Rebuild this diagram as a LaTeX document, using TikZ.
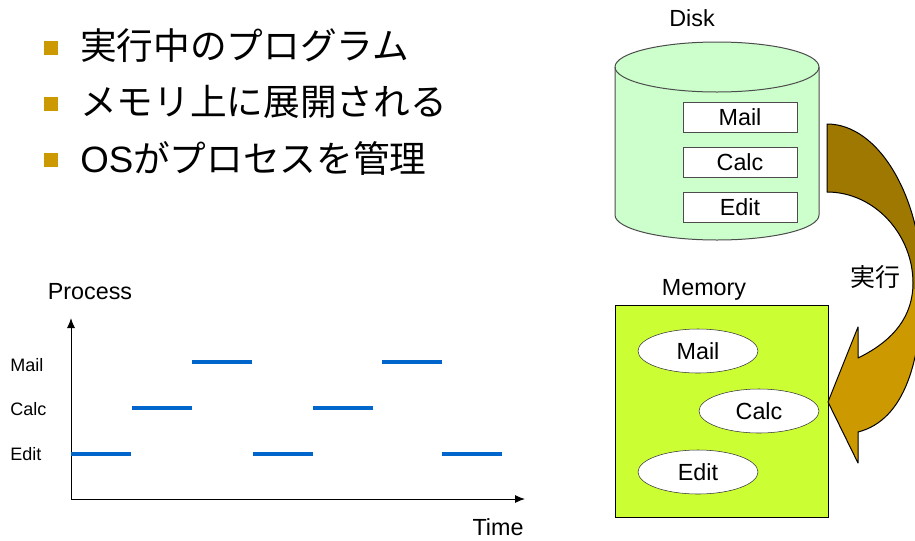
\documentclass[tikz,border=0pt]{standalone}
\usepackage{fontspec}
\setmainfont{Liberation Sans}
\newfontfamily\cjk{Noto Sans CJK JP}
\usetikzlibrary{shapes.geometric,arrows.meta}
\definecolor{gold}{HTML}{CC9900}
\definecolor{darkgold}{HTML}{9E7800}
\definecolor{diskgreen}{HTML}{CCFFCC}
\definecolor{memgreen}{HTML}{CCFF33}
\definecolor{runblue}{HTML}{0066CC}
\tikzset{
  lbl/.style={font=\fontsize{17.5}{20}\selectfont, inner sep=0pt},
  small/.style={font=\fontsize{13.5}{16}\selectfont, inner sep=0pt, anchor=west},
  bullettext/.style={font=\fontsize{27.5}{32}\selectfont, inner sep=0pt, anchor=west},
  bulletsq/.style={fill=gold, minimum size=11pt, inner sep=0pt, draw=none},
  filebox/.style={draw=black!70, fill=white, minimum width=85.5pt, minimum height=22.5pt, inner sep=0pt, font=\fontsize{17.5}{20}\selectfont},
  proc/.style={ellipse, draw=black!80, fill=white, minimum width=90pt, minimum height=33pt, inner sep=0pt, font=\fontsize{17.5}{20}\selectfont},
  run/.style={runblue, line width=3pt},
  axis/.style={line width=0.75pt, -{Latex[length=7.5pt,width=6pt]}},
}
\begin{document}
\begin{tikzpicture}[x=0.75pt,y=-0.75pt]
\useasboundingbox (0,0) rectangle (915,540);
\clip (0,0) rectangle (915,540);

% bullets
\node[bulletsq] (b1) at (51,48) {};
\node[bulletsq] (b2) at (51,104) {};
\node[bulletsq] (b3) at (51,160) {};
\node[bullettext] (t1) at (80,46) {\cjk 実行中のプログラム};
\node[bullettext] (t2) at (80,102) {\cjk メモリ上に展開される};
\node[bullettext] (t3) at (80,158) {OS{\cjk がプロセスを管理}};

% disk
\node[lbl] (disklbl) at (692,18) {Disk};
\draw[black!70, fill=diskgreen, line width=0.75pt]
  (615,67) -- (615,215) arc[start angle=180, end angle=0, x radius=102, y radius=25]
  -- (819,67) arc[start angle=0, end angle=-180, x radius=102, y radius=25] -- cycle;
\draw[black!70, line width=0.75pt] (615,67) arc[start angle=180, end angle=0, x radius=102, y radius=25];
\node[filebox] (dmail) at (740,117) {Mail};
\node[filebox] (dcalc) at (740,162) {Calc};
\node[filebox] (dedit) at (740,207) {Edit};

% memory
\node[lbl] (memlbl) at (704,290) {Memory};
\draw[black, fill=memgreen, line width=0.75pt] (615,305) rectangle (828,517);
\node[proc] (mmail) at (698,351) {Mail};
\node[proc] (mcalc) at (759,411) {Calc};
\node[proc] (medit) at (698,472) {Edit};

% curved arrow
\def\arrowpath{(827,124) .. controls (880,124) and (922,200) .. (922,283)
  .. controls (922,360) and (905,420) .. (858,432)
  -- (858,463) -- (828,402) -- (858,327) -- (858,358)
  .. controls (895,340) and (913,315) .. (913,283)
  .. controls (913,235) and (875,192) .. (827,192) -- cycle}
\fill[gold] \arrowpath;
\begin{scope}
  \clip (800,100) rectangle (930,288);
  \fill[darkgold] \arrowpath;
\end{scope}
\draw[black, line width=0.75pt, line join=round] \arrowpath;
\node[font=\fontsize{18.75}{22}\selectfont\cjk, inner sep=0pt] (runlbl) at (875,277) {実行};

% chart
\coordinate (origin) at (71,499);
\coordinate (ytip) at (71,318);
\coordinate (xtip) at (525,499);
\draw[axis] (origin) -- (ytip);
\draw[axis] (origin) -- (xtip);
\node[lbl] (ylbl) at (90,292) {Process};
\node[lbl] (xlbl) at (498,527) {Time};
\node[small] (lmail) at (10,365) {Mail};
\node[small] (lcalc) at (10,409) {Calc};
\node[small] (ledit) at (10,454) {Edit};

\coordinate (e1a) at (71,454);  \coordinate (e1b) at (131,454);
\coordinate (c1a) at (132,408); \coordinate (c1b) at (192,408);
\coordinate (m1a) at (192,362); \coordinate (m1b) at (252,362);
\coordinate (e2a) at (253,454); \coordinate (e2b) at (313,454);
\coordinate (c2a) at (313,408); \coordinate (c2b) at (373,408);
\coordinate (m2a) at (382,362); \coordinate (m2b) at (442,362);
\coordinate (e3a) at (442,454); \coordinate (e3b) at (502,454);
\draw[run] (e1a) -- (e1b);
\draw[run] (c1a) -- (c1b);
\draw[run] (m1a) -- (m1b);
\draw[run] (e2a) -- (e2b);
\draw[run] (c2a) -- (c2b);
\draw[run] (m2a) -- (m2b);
\draw[run] (e3a) -- (e3b);
\end{tikzpicture}
\end{document}
